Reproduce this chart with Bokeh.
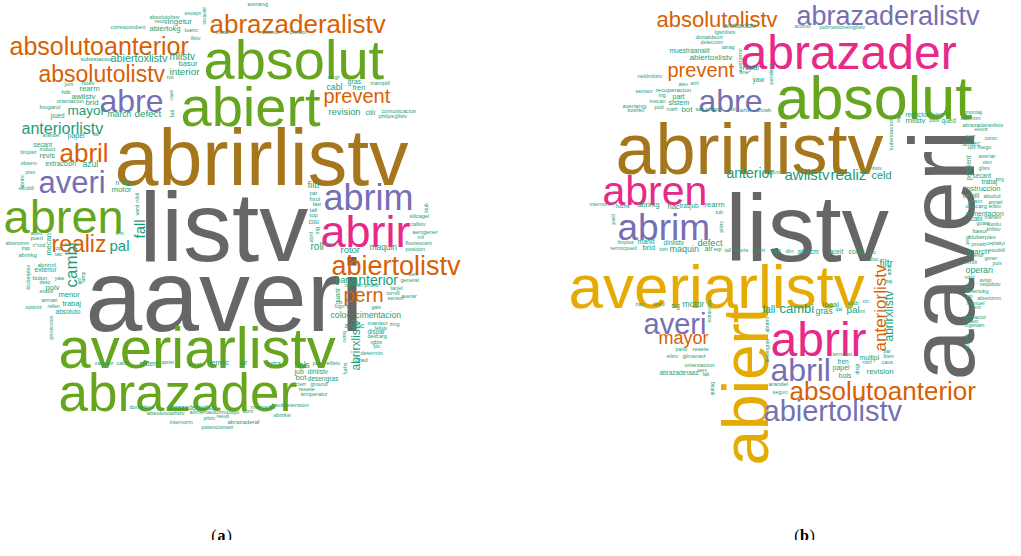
import math
from bokeh.plotting import figure
from bokeh.models import ColumnDataSource, Range1d
from bokeh.embed import file_html
from bokeh.resources import INLINE
from bokeh.core.properties import value

PALETTE = {"k": "#666666", "o": "#D95F02", "p": "#7570B3", "m": "#E7298A",
           "g": "#66A61E", "y": "#E6AB02", "b": "#A6761D", "t": "#1B9E77"}
# renderer places the alphabetic baseline about one descent lower than asked
DESCENT = 0.21

# ---- cloud (a): (word, font px, left x, baseline y, colour, rotated) ----
a_big = [
    ("listv", 98, 147, 255, "k", 0), ("aaveri", 102, 93, 325, "k", 0),
    ("abrirlistv", 79, 122, 182, "b", 0), ("absolut", 56, 211, 79, "g", 0),
    ("abiert", 56, 188, 126, "g", 0), ("abrazaderalistv", 26, 217, 37, "o", 0),
    ("absolutoanterior", 25, 17, 59, "o", 0), ("absolutolistv", 23, 46, 86, "o", 0),
    ("abre", 32, 107, 115, "p", 0), ("mayor", 13.5, 75, 121, "t", 0),
    ("anteriorlistv", 16, 29, 139, "t", 0), ("abril", 26, 67, 166, "o", 0),
    ("prevent", 20, 331, 108, "o", 0), ("averi", 31, 46, 197, "p", 0),
    ("abren", 47, 11, 234, "g", 0), ("realiz", 23, 59, 256, "o", 0),
    ("pal", 15, 117, 256, "t", 0), ("cambi", 17, 83, 295, "t", 1),
    ("fall", 15, 150, 246, "t", 1), ("abrim", 36, 331, 213, "p", 0),
    ("abrir", 45, 328, 248, "m", 0), ("abiertolistv", 27, 339, 279, "o", 0),
    ("anterior", 14, 358, 290, "t", 0), ("pern", 20, 351, 307, "o", 0),
    ("averiarlistv", 58, 66, 367, "g", 0), ("abrazader", 53, 66, 411, "g", 0),
    ("abrirxlistv", 12, 366, 378, "t", 1),
]
a_small = [
    ("absolutolistv", 5.5, 157, 26, 0), ("except", 5.5, 192, 22, 0), ("encuentr", 4.5, 213, 32, 1),
    ("recog", 5, 162, 30, 0), ("ingetur", 8, 175, 31, 0), ("correspondient", 5.3, 118, 36, 0),
    ("abiertokg", 7.5, 157, 38, 0), ("tuerc", 6, 192, 39, 0), ("instal", 6, 223, 41, 0),
    ("tllistv", 4.5, 198, 47, 0), ("averiarvg", 5, 255, 13, 0), ("antirob", 5.7, 269, 41, 0),
    ("presion", 5.4, 297, 41, 0), ("subestacion", 6, 88, 68, 0), ("abiertoxlistv", 10.8, 118, 68, 0),
    ("mlistv", 10, 177, 66, 0), ("basur", 7.6, 186, 73, 0), ("interior", 9.8, 177, 81, 0),
    ("rot", 6, 174, 86, 0), ("negr", 6, 335, 86, 0), ("cabl", 8.7, 334, 96, 0),
    ("gras", 7, 355, 90, 0), ("fren", 7.5, 360, 97, 0), ("trampill", 6, 378, 92, 0),
    ("revision", 9.3, 336, 121, 0), ("cliii", 7, 373, 121, 0), ("comunicacion", 5.7, 389, 120, 0),
    ("philips", 5.5, 386, 125, 0), ("gllstv", 5.5, 402, 125, 0), ("junt", 5.3, 72, 93, 0),
    ("nuev", 6, 89, 92, 0), ("rearm", 7.7, 87, 98, 0), ("hdk", 5.6, 69, 101, 0),
    ("awlistv", 8, 79, 106, 0), ("orientacion", 5.6, 64, 110, 0), ("brid", 7.8, 93, 112, 0),
    ("brugarol", 5.7, 47, 116, 0), ("march", 8.5, 115, 123, 0), ("defect", 9.8, 142, 123, 0),
    ("pued", 6.3, 58, 124, 0), ("caus", 5, 180, 108, 1), ("falt", 6, 181, 125, 1),
    ("arandel", 5.1, 50, 144, 0), ("papel", 7, 75, 144, 0), ("sal", 5, 100, 143, 0),
    ("secant", 6.3, 41, 153, 0), ("induct", 6, 47, 158, 0), ("limpiez", 5.2, 28, 161, 0),
    ("revis", 7.3, 47, 165, 0), ("extraccion", 6.7, 53, 172, 0), ("observ", 5.5, 28, 172, 0),
    ("azul", 8.5, 90, 173, 0), ("prev", 5, 33, 181, 0), ("escobill", 4.6, 26, 197, 0),
    ("n°listv", 7, 123, 191, 0), ("motor", 7.8, 119, 199, 0), ("abrirrc", 5, 31, 196, 1),
    ("nibil", 5.5, 146, 210, 1), ("verd", 5.5, 146, 223, 1), ("lent", 5, 123, 242, 0),
    ("aceit", 5.5, 38, 242, 0), ("puert", 5.5, 38, 247, 0), ("abiertomm", 5, 13, 252, 0),
    ("trap", 5, 29, 257, 0), ("n°cod", 5, 40, 254, 0), ("mecan", 7.5, 58, 263, 1),
    ("abrirkg", 6, 26, 264, 0), ("cip", 5, 63, 257, 0), ("sac", 5, 62, 263, 0),
    ("abrirml", 6, 45, 274, 0), ("exterior", 6.7, 42, 278, 0), ("kluberplex", 5.4, 37, 297, 1),
    ("bidon", 6, 40, 287, 0), ("yaw", 5.5, 62, 287, 0), ("desc", 5.2, 47, 291, 0),
    ("polv", 7.6, 53, 297, 0), ("encod", 5, 47, 300, 0), ("menor", 7.5, 66, 304, 0),
    ("armari", 5.7, 49, 309, 0), ("trabaj", 7.4, 70, 313, 0), ("rellen", 5, 55, 315, 0),
    ("optimiz", 5.2, 33, 316, 0), ("absoluto", 6.6, 63, 320, 0), ("proteccion", 5.2, 60, 347, 1),
    ("lamp", 5, 92, 290, 1), ("gel", 5, 88, 292, 1), ("variador", 5.3, 102, 372, 0),
    ("cald", 5.5, 124, 372, 0), ("sistem", 6.6, 147, 372, 0), ("apriet", 5, 169, 371, 0),
    ("local", 6.2, 196, 372, 0), ("termic", 7.1, 217, 372, 0), ("air", 7.2, 247, 372, 0),
    ("extra", 6.4, 274, 372, 0), ("bols", 8.3, 302, 374, 0), ("pon", 5.5, 320, 372, 0),
    ("ellistv", 5.4, 334, 372, 0), ("jub", 7, 302, 380, 0), ("dinlistv", 6.7, 315, 380, 0),
    ("bot", 7.8, 303, 387, 0), ("desengras", 6.6, 315, 387, 0), ("cierr", 5.5, 303, 393, 0),
    ("ground", 5.5, 318, 393, 0), ("resete", 5.9, 306, 398, 0), ("temperatur", 5.6, 308, 403, 0),
    ("donaldson", 5.4, 137, 416, 0), ("abrazaderaxlistv", 6.7, 175, 416, 0),
    ("absolutowlistv", 6.1, 154, 421, 0), ("alimentacion", 5.7, 197, 421, 0),
    ("multipl", 6.1, 229, 420, 0), ("pilotv", 5, 211, 427, 0), ("result", 5.2, 224, 425, 0),
    ("internorm", 5.5, 177, 431, 0), ("abrazaderaf", 6, 235, 431, 0),
    ("potenciometr", 5.5, 209, 436, 0), ("marcador", 6, 258, 416, 0),
    ("sobretension", 5.8, 283, 414, 0), ("abrir", 5.5, 250, 420, 0), ("abrirkw", 5.3, 281, 424, 0),
    ("cerrq", 5, 353, 350, 1), ("fuchs", 5, 354, 382, 1), ("arranc", 7, 352, 334, 0),
    ("manten", 6, 375, 332, 0), ("fellstv", 5, 382, 337, 0), ("zing", 5.5, 397, 333, 0),
    ("dispar", 6.4, 375, 340, 0), ("descarg", 5.4, 375, 345, 0), ("igbts", 5.5, 378, 351, 0),
    ("plc", 5.5, 381, 355, 0), ("determin", 5.8, 368, 362, 0), ("grad", 6, 363, 369, 0),
    ("filtr", 9.4, 315, 194, 0), ("par", 5.5, 317, 202, 0), ("fixol", 6, 317, 208, 0),
    ("fasi", 5.5, 320, 213, 0), ("tall", 6, 317, 219, 0), ("top", 6, 317, 224, 0),
    ("cou", 6.5, 316, 230, 0), ("sig", 6, 326, 242, 1), ("abril", 5.5, 320, 250, 1),
    ("roll", 10, 318, 256, 0), ("hac", 6, 333, 253, 0), ("klub", 5, 435, 220, 1),
    ("silicagel", 5.5, 417, 225, 0), ("callistv", 5, 418, 233, 0), ("aerogener", 5.5, 420, 241, 0),
    ("mll", 5, 425, 246, 0), ("fluorescent", 5.4, 413, 252, 0), ("posicion", 5.3, 413, 258, 0),
    ("rotor", 9.5, 348, 259, 0), ("maquin", 8.4, 377, 256, 0), ("part", 8.8, 343, 289, 0),
    ("bem", 5, 416, 283, 0), ("general", 5.5, 408, 289, 0), ("rob", 5, 352, 294, 0),
    ("vari", 5, 362, 294, 0), ("prueb", 5.5, 372, 294, 0), ("tarjet", 5.5, 398, 297, 0),
    ("tornill", 5.5, 394, 302, 0), ("averiar", 5, 409, 305, 0), ("sensor", 5.5, 395, 307, 0),
    ("guant", 6.5, 346, 312, 1), ("fugn°s", 5, 342, 315, 0), ("gale", 5, 379, 316, 0),
    ("coloc", 8.7, 338, 324, 0), ("cimentacion", 8.5, 363, 324, 0),
]

# ---- cloud (b) ----
b_big = [
    ("abrirlistv", 72, 623, 172, "b", 0), ("listv", 95, 733, 255, "k", 0),
    ("aaveri", 92, 969, 388, "k", 1), ("absolut", 61, 783, 118, "g", 0),
    ("abrazader", 48, 748, 70, "m", 0), ("abrazaderalistv", 27, 804, 29, "p", 0),
    ("absolutolistv", 22, 664, 32, "o", 0), ("prevent", 20, 675, 82, "o", 0),
    ("abre", 32, 706, 115, "p", 0), ("abren", 41, 610, 207, "m", 0),
    ("abrim", 37, 625, 243, "p", 0), ("averiarlistv", 62, 576, 307, "y", 0),
    ("averi", 29, 651, 338, "p", 0), ("mayor", 18, 666, 349, "o", 0),
    ("abiert", 64, 767, 473, "y", 1), ("abrir", 48, 778, 357, "m", 0),
    ("abril", 32, 778, 384, "p", 0), ("absolutoanterior", 26, 797, 404, "o", 0),
    ("abiertolistv", 29, 771, 425, "p", 0), ("anteriorlistv", 17, 892, 359, "o", 1),
    ("abrirxlistv", 12, 899, 349, "t", 1), ("anterior", 14, 734, 183, "t", 0),
    ("awlistv", 15, 792, 185, "t", 0), ("realiz", 15, 838, 185, "t", 0),
    ("celd", 11, 879, 185, "t", 0), ("cambi", 13, 787, 319, "t", 0),
    ("fall", 10, 770, 319, "t", 0), ("filtr", 10, 887, 273, "t", 0),
]
b_small = [
    ("averiarxlistv", 6.3, 730, 34, 0), ("lgsmlistv", 5.5, 722, 41, 0), ("donaldson", 5.9, 703, 46, 0),
    ("deteccion", 5.3, 708, 51, 0), ("tarrag", 5, 729, 56, 0), ("muestraanalit", 6.7, 677, 59, 0),
    ("abiertoxlistv", 8.1, 697, 67, 0), ("averiarmc", 5.5, 749, 80, 1), ("repar", 7.4, 750, 77, 0),
    ("line", 6, 747, 81, 0), ("yaw", 6.7, 760, 88, 0), ("pendient", 5.5, 780, 92, 1),
    ("neldmlistv", 5.5, 645, 85, 0), ("alev", 5, 686, 93, 0), ("aml", 5, 698, 92, 0),
    ("recuperacion", 6.2, 663, 98, 0), ("sensor", 5.7, 643, 100, 0), ("ing", 5.5, 666, 104, 0),
    ("part", 7, 680, 105, 0), ("mecan", 5.3, 657, 110, 0), ("sistem", 7.2, 676, 112, 0),
    ("averiarvg", 5.8, 630, 115, 0), ("pod", 5.5, 662, 116, 0), ("koshkil", 5.5, 635, 119, 0),
    ("mahl", 5, 674, 118, 0), ("bot", 7.8, 689, 119, 0), ("sac", 5.5, 703, 118, 0),
    ("reform", 5.5, 713, 118, 0), ("ssl", 5, 737, 118, 0), ("azul", 6, 747, 119, 0),
    ("crowb", 5.5, 764, 119, 0), ("acumul", 5, 802, 35, 0), ("polimetroneinglistv", 5.5, 827, 36, 0),
    ("reductor", 6.3, 913, 123, 0), ("determin", 5.3, 937, 123, 0), ("montaj", 5.5, 973, 121, 0),
    ("mlistv", 7.8, 913, 130, 0), ("polv", 5.5, 937, 129, 0), ("qued", 6.4, 949, 129, 0),
    ("abrimm", 6, 968, 127, 0), ("abrazaderaxlistv", 5.6, 970, 134, 0), ("electr", 5.5, 982, 138, 0),
    ("subestacion", 6, 900, 158, 1), ("tap", 5, 907, 130, 1), ("negr", 5, 973, 145, 0),
    ("coron", 5, 992, 147, 0), ("amtec", 6.5, 970, 152, 0), ("ups", 5, 975, 156, 0),
    ("megu", 5.5, 985, 156, 0), ("averiar", 5.5, 986, 165, 0), ("pendient", 6.5, 977, 188, 1),
    ("vien", 5, 990, 171, 0), ("gllstv", 5, 986, 177, 0), ("secant", 6.3, 980, 184, 0),
    ("trabaj", 6.3, 989, 190, 0), ("zing", 4.5, 1003, 188, 0), ("instruccion", 7.5, 972, 198, 0),
    ("tornill", 7, 970, 204, 0), ("absoluti", 5, 991, 205, 0), ("bam", 6, 978, 210, 0),
    ("armari", 5, 996, 211, 0), ("descarg", 6, 973, 215, 0), ("lellstv", 5, 996, 215, 0),
    ("alimentacion", 6.8, 973, 222, 0), ("cabl", 6.5, 978, 227, 0), ("manten", 5, 992, 226, 0),
    ("guant", 5.3, 984, 232, 0), ("sustitu", 5, 994, 233, 0), ("basur", 6, 980, 240, 0),
    ("khllstv", 5, 994, 238, 0), ("kluberplex", 6, 976, 246, 0), ("peq", 5, 976, 252, 1),
    ("prueb", 5.7, 979, 253, 0), ("ceplattyn", 5, 994, 252, 0), ("march", 7.9, 975, 261, 0),
    ("escobill", 5, 996, 259, 0), ("menor", 5, 977, 264, 0), ("gener", 5, 992, 267, 0),
    ("emili", 6, 972, 271, 0), ("puls", 5, 1000, 272, 0), ("operari", 8.8, 973, 279, 0),
    ("robot", 4.5, 972, 286, 0), ("avisp", 5, 987, 289, 0), ("netpolistv", 5, 987, 293, 0),
    ("quit", 5, 972, 295, 0), ("abiertokg", 5.6, 973, 300, 0), ("tap", 5, 973, 305, 0),
    ("abiertomm", 5, 985, 307, 0), ("manuel", 5.5, 974, 312, 0), ("lent", 5, 980, 316, 0),
    ("contactor", 5.3, 972, 326, 0), ("tuerc", 5, 975, 330, 0), ("ingelsam", 5, 972, 334, 0),
    ("schunk", 5, 976, 357, 1), ("junt", 5, 779, 181, 0), ("enlistv", 5, 875, 177, 0),
    ("internorm", 5.3, 597, 213, 0), ("fuchs", 6, 623, 215, 0), ("abrirkg", 7.2, 645, 214, 0),
    ("hac", 7.5, 675, 216, 0), ("trasjub", 6.3, 687, 214, 0), ("rearm", 7.7, 712, 214, 0),
    ("tub", 5.5, 723, 221, 0), ("pasil", 5, 622, 232, 1), ("pilstv", 5, 730, 240, 1),
    ("limpiez", 5.3, 625, 251, 0), ("mand", 6.8, 645, 250, 0), ("brid", 7.6, 650, 257, 0),
    ("dinlistv", 6.7, 671, 251, 0), ("defect", 9.2, 705, 252, 0), ("termicpued", 5.3, 618, 257, 0),
    ("tom", 5, 667, 258, 0), ("maquin", 9, 677, 258, 0), ("air", 7.3, 712, 258, 0),
    ("esp", 5, 721, 258, 0), ("tall", 5, 732, 259, 0), ("revis", 6, 743, 259, 0),
    ("puert", 5.5, 760, 259, 0), ("roll", 7, 779, 260, 0), ("din", 6, 793, 260, 0),
    ("abrircm", 6.3, 805, 260, 0), ("aceit", 6.5, 837, 260, 0), ("coloc", 7, 856, 260, 0),
    ("plc", 5, 877, 261, 0), ("disc", 5, 877, 268, 0), ("adtiv", 5, 898, 283, 1),
    ("baj", 5, 893, 290, 0), ("klub", 6, 855, 312, 0), ("cin", 5, 870, 310, 0),
    ("local", 8, 830, 314, 0), ("gras", 8.8, 823, 320, 0), ("dal", 5, 843, 318, 0),
    ("pal", 9.8, 854, 319, 0), ("ml", 5, 867, 320, 0), ("trap", 5, 643, 313, 0),
    ("dlistv", 5.5, 660, 313, 0), ("sig", 6.5, 679, 314, 0), ("motor", 8.6, 690, 313, 0),
    ("extraccion", 5, 718, 330, 1), ("abrirml", 5, 776, 340, 1), ("desengras", 5, 776, 370, 1),
    ("paisv", 5, 683, 358, 0), ("resete", 5.8, 700, 358, 0), ("elistv", 5, 674, 365, 0),
    ("gimenez", 6.2, 690, 364, 0), ("orientacion", 6.2, 692, 373, 0), ("abrazaderaaz", 6.4, 667, 381, 0),
    ("serv", 5, 705, 379, 0), ("falt", 5, 710, 383, 0), ("quitag", 5, 721, 403, 1),
    ("arandel", 5.8, 776, 393, 0), ("segun", 5.5, 780, 401, 0), ("terminst", 5.5, 840, 363, 0),
    ("fren", 6.5, 845, 370, 0), ("papel", 7, 840, 376, 0), ("bols", 7, 846, 384, 0),
    ("disgr", 5, 866, 382, 1), ("multipl", 6.8, 867, 366, 0), ("nitril", 5, 870, 371, 0),
    ("par", 5, 891, 360, 0), ("bien", 5.5, 891, 365, 0), ("caus", 5.5, 889, 371, 0),
    ("revision", 7.9, 874, 381, 0),
]

def build(big, small):
    rows = [(w, s, x, y, c, r) for (w, s, x, y, c, r) in big]
    rows += [(w, s, x, y, "t", r) for (w, s, x, y, r) in small]
    words = [r[0] for r in rows]
    sizes = ["%spx" % r[1] for r in rows]
    xs = [r[2] - (DESCENT * r[1] if r[5] else 0.0) for r in rows]
    ys = [r[3] - (0.0 if r[5] else DESCENT * r[1]) for r in rows]
    cols = [PALETTE[r[4]] for r in rows]
    angs = [math.pi / 2 if r[5] else 0.0 for r in rows]
    return ColumnDataSource(dict(word=words, fs=sizes, x=xs, y=ys, color=cols, angle=angs))

p = figure(width=1005, height=540, x_range=Range1d(8, 1013), y_range=Range1d(548, 8),
           output_backend="svg", toolbar_location=None, min_border=0,
           x_axis_type=None, y_axis_type=None)
p.grid.visible = False
p.outline_line_color = None
p.background_fill_color = "white"

for src in (build(a_big, a_small), build(b_big, b_small)):
    p.text(x="x", y="y", text="word", angle="angle", text_font_size="fs",
           text_color="color", text_align="left", text_baseline="alphabetic",
           text_font=value("Liberation Sans"), source=src)

# panel labels
LY = 546 - DESCENT * 16
for cx, letter in ((229, "a"), (812, "b")):
    p.text(x=[cx - 5], y=[LY], text=["("], text_align="right", text_baseline="alphabetic",
           text_font=value("Liberation Serif"), text_font_size="16px", text_color="black")
    p.text(x=[cx], y=[LY], text=[letter], text_align="center", text_baseline="alphabetic",
           text_font=value("Liberation Serif"), text_font_size="16px", text_font_style="bold",
           text_color="black")
    p.text(x=[cx + 5], y=[LY], text=[")"], text_align="left", text_baseline="alphabetic",
           text_font=value("Liberation Serif"), text_font_size="16px", text_color="black")

open("out.html", "w").write(file_html(p, INLINE))
